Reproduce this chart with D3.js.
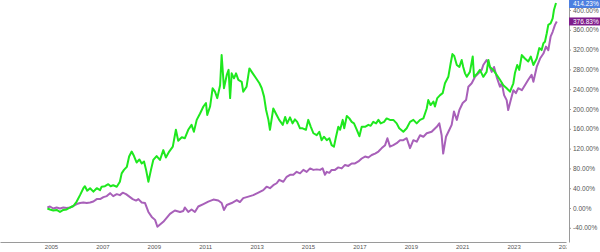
<!DOCTYPE html>
<html>
<head>
<meta charset="utf-8">
<script src="https://cdn.jsdelivr.net/npm/d3@7"></script>
<style>
  body { margin: 0; background: #fff; }
  svg { display: block; font-family: "Liberation Sans", Arial, sans-serif; }
</style>
</head>
<body>
<div id="chart"></div>
<script>
// time points (decimal years) and cumulative returns (%)
var greenYears = [2004.86, 2004.96, 2005.09, 2005.22, 2005.35, 2005.48, 2005.61, 2005.74, 2005.87, 2006.00,
  2006.13, 2006.26, 2006.32, 2006.41, 2006.52, 2006.65, 2006.78, 2006.91, 2006.97, 2007.10,
  2007.23, 2007.32, 2007.42, 2007.56, 2007.68, 2007.75, 2007.84, 2007.95, 2008.04, 2008.14,
  2008.23, 2008.33, 2008.44, 2008.53, 2008.62, 2008.70, 2008.79, 2008.89, 2008.98, 2009.11,
  2009.24, 2009.37, 2009.47, 2009.60, 2009.74, 2009.86, 2009.95, 2010.09, 2010.21, 2010.34,
  2010.47, 2010.56, 2010.67, 2010.80, 2010.93, 2011.03, 2011.08, 2011.19, 2011.29, 2011.38,
  2011.47, 2011.58, 2011.64, 2011.73, 2011.84, 2011.91, 2011.97, 2012.03, 2012.12, 2012.20,
  2012.29, 2012.42, 2012.48, 2012.61, 2012.72, 2012.85, 2012.98, 2013.11, 2013.20, 2013.29,
  2013.37, 2013.46, 2013.52, 2013.65, 2013.78, 2013.88, 2014.02, 2014.11, 2014.19, 2014.30,
  2014.40, 2014.49, 2014.58, 2014.69, 2014.79, 2014.92, 2015.01, 2015.11, 2015.21, 2015.34,
  2015.44, 2015.53, 2015.62, 2015.73, 2015.83, 2015.92, 2016.01, 2016.09, 2016.18, 2016.25,
  2016.35, 2016.41, 2016.51, 2016.61, 2016.70, 2016.79, 2016.90, 2017.00, 2017.09, 2017.22,
  2017.35, 2017.44, 2017.54, 2017.65, 2017.74, 2017.83, 2017.96, 2018.06, 2018.19, 2018.32,
  2018.45, 2018.55, 2018.71, 2018.84, 2018.97, 2019.10, 2019.23, 2019.36, 2019.49, 2019.62,
  2019.68, 2019.77, 2019.88, 2019.94, 2020.03, 2020.14, 2020.24, 2020.33, 2020.46, 2020.55,
  2020.62, 2020.69, 2020.79, 2020.89, 2020.98, 2021.04, 2021.11, 2021.18, 2021.30, 2021.41,
  2021.46, 2021.59, 2021.69, 2021.82, 2021.95, 2022.02, 2022.08, 2022.21, 2022.34, 2022.47,
  2022.60, 2022.73, 2022.86, 2022.99, 2023.05, 2023.14, 2023.22, 2023.32, 2023.44, 2023.57,
  2023.67, 2023.77, 2023.90, 2024.00, 2024.09, 2024.16, 2024.22, 2024.29, 2024.35, 2024.44,
  2024.52, 2024.57, 2024.65];
var greenValues = [-1, -3, -5, -4, -8, -4, -3, 1, 4, 13,
  26, 40, 44, 35, 40, 33, 40, 36, 43, 44,
  48, 44, 46, 43, 53, 70, 77, 83, 104, 114,
  105, 92, 98, 90, 94, 77, 53, 77, 97, 105,
  97, 117, 102, 114, 124, 158, 136, 143, 141, 158,
  168, 154, 178, 191, 205, 212, 188, 205, 242, 235,
  222, 248, 309, 242, 269, 279, 222, 272, 262, 272,
  259, 255, 235, 245, 282, 272, 262, 252, 242, 225,
  198, 178, 158, 201, 188, 178, 168, 184, 171, 183,
  171, 179, 174, 161, 161, 158, 178, 164, 151, 147,
  154, 137, 144, 137, 141, 127, 124, 144, 164, 158,
  178, 161, 186, 181, 174, 171, 158, 145, 164, 164,
  168, 166, 174, 171, 178, 171, 174, 181, 178, 178,
  171, 161, 154, 161, 174, 178, 171, 178, 181, 201,
  218, 208, 215, 205, 222, 228, 232, 252, 265, 292,
  311, 307, 289, 285, 299, 285, 272, 265, 275, 306,
  265, 272, 279, 265, 275, 299, 285, 279, 269, 259,
  248, 242, 235, 252, 272, 289, 279, 309, 302, 296,
  306, 289, 302, 323, 319, 333, 336, 353, 370, 373,
  383, 400, 414.23];

var purpleYears = [2004.86, 2004.96, 2005.09, 2005.22, 2005.35, 2005.48, 2005.61, 2005.74, 2005.87, 2006.00,
  2006.13, 2006.26, 2006.39, 2006.52, 2006.65, 2006.78, 2006.91, 2007.04, 2007.17, 2007.30,
  2007.42, 2007.56, 2007.68, 2007.79, 2007.92, 2008.05, 2008.18, 2008.31, 2008.40, 2008.53,
  2008.66, 2008.79, 2008.92, 2009.05, 2009.14, 2009.37, 2009.63, 2009.82, 2010.02, 2010.15,
  2010.21, 2010.34, 2010.47, 2010.60, 2010.73, 2010.93, 2011.12, 2011.32, 2011.51, 2011.64,
  2011.73, 2011.84, 2012.03, 2012.23, 2012.35, 2012.48, 2012.68, 2012.87, 2013.07, 2013.26,
  2013.39, 2013.52, 2013.65, 2013.78, 2013.88, 2014.04, 2014.17, 2014.30, 2014.43, 2014.56,
  2014.69, 2014.82, 2014.95, 2015.08, 2015.21, 2015.34, 2015.47, 2015.57, 2015.66, 2015.73,
  2015.83, 2015.92, 2016.05, 2016.18, 2016.31, 2016.44, 2016.57, 2016.70, 2016.83, 2016.96,
  2017.09, 2017.22, 2017.35, 2017.48, 2017.61, 2017.74, 2017.87, 2018.00, 2018.09, 2018.19,
  2018.32, 2018.45, 2018.58, 2018.71, 2018.84, 2018.97, 2019.10, 2019.23, 2019.36, 2019.49,
  2019.62, 2019.81, 2020.01, 2020.11, 2020.20, 2020.26, 2020.37, 2020.50, 2020.59, 2020.68,
  2020.79, 2020.89, 2021.02, 2021.15, 2021.24, 2021.37, 2021.50, 2021.63, 2021.76, 2021.82,
  2021.95, 2022.02, 2022.15, 2022.24, 2022.34, 2022.47, 2022.54, 2022.63, 2022.73, 2022.79,
  2022.89, 2022.99, 2023.09, 2023.18, 2023.32, 2023.44, 2023.57, 2023.70, 2023.77, 2023.90,
  2024.03, 2024.16, 2024.26, 2024.35, 2024.44, 2024.52, 2024.61, 2024.68];
var purpleValues = [1, 3, -1, 1, -1, 1, 0, 1, 4, 8,
  10, 11, 10, 11, 13, 18, 18, 22, 24, 30,
  24, 28, 26, 31, 28, 23, 18, 15, 18, 11,
  10, -8, -18, -24, -38, -28, -12, -5, -8, -6,
  1, -8, -3, -8, 3, 8, 13, 17, 15, 10,
  -4, 6, 10, 16, 12, 20, 23, 26, 31, 36,
  43, 40, 46, 50, 57, 53, 63, 67, 67, 73,
  70, 77, 73, 80, 77, 78, 77, 80, 67, 73,
  71, 77, 77, 82, 80, 87, 85, 90, 90, 94,
  100, 104, 102, 107, 110, 114, 121, 127, 141, 124,
  127, 131, 137, 137, 141, 121, 137, 134, 147, 144,
  151, 154, 164, 171, 147, 110, 144, 158, 168, 195,
  178, 198, 212, 218, 245, 252, 265, 272, 279, 289,
  299, 292, 275, 285, 265, 245, 252, 228, 218, 198,
  218, 238, 232, 242, 238, 248, 259, 269, 255, 285,
  302, 312, 326, 319, 346, 356, 370, 376.83];

var yTicks = [-40, 0, 40, 80, 120, 160, 200, 240, 280, 320, 360, 400];
var xTicks = [2005, 2007, 2009, 2011, 2013, 2015, 2017, 2019, 2021, 2023, 2025];

// svg size and plot region
var svgWidth = 600;
var svgHeight = 252;
var plotRight = 569;
var plotBottom = 242;

var svg = d3.select("#chart").append("svg")
    .attr("width", svgWidth)
    .attr("height", svgHeight);

// scales
var xScale = d3.scaleLinear()
    .domain([2003.016, 2005 + (plotRight - 51) / 25.7])
    .range([0, plotRight]);

var yScale = d3.scaleLinear()
    .domain([-68.7, 420.2])
    .range([plotBottom, 0]);

// clip so the last year label gets cut at the price axis
svg.append("clipPath").attr("id", "xclip")
  .append("rect")
    .attr("x", 0).attr("y", 0)
    .attr("width", 566.5).attr("height", svgHeight);

// x axis
var xAxis = svg.append("g")
    .attr("transform", `translate(0, ${plotBottom})`)
    .attr("clip-path", "url(#xclip)")
    .call(d3.axisBottom(xScale).tickValues(xTicks).tickFormat(d3.format("d")).tickSize(0).tickPadding(3));
xAxis.select(".domain").attr("stroke", "#9a9a9a").attr("stroke-width", 1.2);
xAxis.selectAll("text").attr("fill", "#555").attr("font-size", "6px");

// y axis on the right
var yAxis = svg.append("g")
    .attr("transform", `translate(${plotRight}, 0)`)
    .call(d3.axisRight(yScale).tickValues(yTicks).tickFormat(d => d.toFixed(2) + "%").tickSize(2).tickSizeOuter(0).tickPadding(2));
yAxis.select(".domain").attr("stroke", "#9a9a9a");
yAxis.selectAll(".tick line").attr("stroke", "#9a9a9a");
yAxis.selectAll("text").attr("fill", "#555").attr("font-size", "6.5px");

// lines
var series = [
  { years: purpleYears, values: purpleValues, color: "#a860b9" },
  { years: greenYears, values: greenValues, color: "#1ee81e" }
];

var line = d3.line()
    .x(d => xScale(d[0]))
    .y(d => yScale(d[1]));

series.forEach(function(s) {
  var pts = s.years.map((y, i) => [y, s.values[i]]);
  svg.append("path")
      .datum(pts)
      .attr("fill", "none")
      .attr("stroke", s.color)
      .attr("stroke-width", 2)
      .attr("stroke-linejoin", "round")
      .attr("d", line);
});

// last value labels on the axis
var lastLabels = [
  { value: greenValues[greenValues.length - 1], fill: "#4c7fe0" },
  { value: purpleValues[purpleValues.length - 1], fill: "#7f1d8c" }
];

lastLabels.forEach(function(l) {
  var cy = Math.max(yScale(l.value), 4);
  svg.append("rect")
      .attr("x", plotRight)
      .attr("y", cy - 4)
      .attr("width", svgWidth - plotRight)
      .attr("height", 8)
      .attr("fill", l.fill);
  svg.append("text")
      .attr("x", plotRight + 4)
      .attr("y", cy)
      .attr("dy", "0.35em")
      .attr("fill", "#fff")
      .attr("font-size", "6.5px")
      .text(l.value.toFixed(2) + "%");
});
</script>
</body>
</html>
